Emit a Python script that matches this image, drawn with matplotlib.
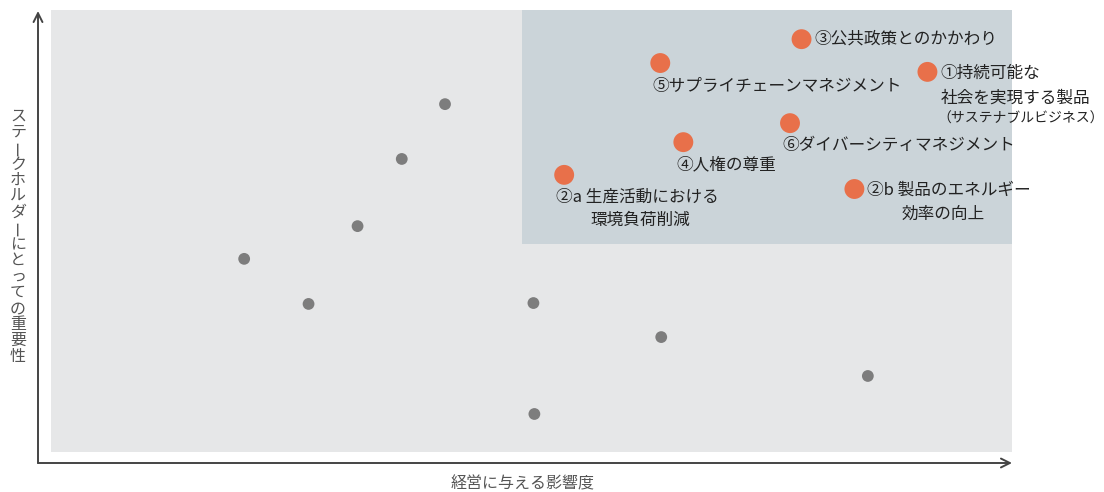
import matplotlib
matplotlib.use("Agg")
import matplotlib.pyplot as plt
from matplotlib.patches import Rectangle

plt.rcParams['font.family'] = ['Noto Sans CJK JP', 'DejaVu Sans']

# ---- data ----
other_x = [41.0, 36.5, 31.9, 20.1, 26.8, 50.2, 63.5, 50.3, 85.0]
other_y = [78.7, 66.3, 51.1, 43.7, 33.5, 33.7, 26.0, 8.6, 17.2]

key_x = [78.1, 63.4, 91.2, 76.9, 65.8, 53.4, 83.6]
key_y = [93.4, 88.0, 86.0, 74.4, 70.1, 62.7, 59.5]
key_labels = [
    ["③公共政策とのかかわり"],
    ["⑤サプライチェーンマネジメント"],
    ["①持続可能な", "社会を実現する製品", "（サステナブルビジネス）"],
    ["⑥ダイバーシティマネジメント"],
    ["④人権の尊重"],
    ["②a 生産活動における", "環境負荷削減"],
    ["②b 製品のエネルギー", "効率の向上"],
]
highlight_x0, highlight_y0 = 49.0, 47.0
x_label = "経営に与える影響度"
y_label = "ステークホルダーにとっての重要性"

# ---- styles (pixel offsets per label line) ----
label_offsets = [
    [(13, 0, 12)],
    [(-8, -23, 12)],
    [(13, -1, 12), (13, -26, 12), (10, -47, 10)],
    [(-8, -22, 12)],
    [(-7, -23, 12)],
    [(-8, -22, 12), (26, -46, 12)],
    [(13, -1, 12), (47, -25, 12)],
]

W, H = 1104, 492
fig = plt.figure(figsize=(W / 100, H / 100), dpi=100)
fig.patch.set_facecolor('white')
ax = fig.add_axes([51 / W, (H - 452) / H, 961 / W, 442 / H])
ax.set_xlim(0, 100)
ax.set_ylim(0, 100)
ax.set_facecolor('#e6e7e8')
for s in ax.spines.values():
    s.set_visible(False)
ax.set_xticks([])
ax.set_yticks([])

ax.add_patch(Rectangle((highlight_x0, highlight_y0), 100 - highlight_x0, 100 - highlight_y0,
                       facecolor='#cbd4d9', edgecolor='none', zorder=1))

ax.scatter(other_x, other_y, s=72, color='#7d7d7d', edgecolors='none', zorder=3)
ax.scatter(key_x, key_y, s=205, color='#e8704a', edgecolors='none', zorder=3)

for x, y, lines, offs in zip(key_x, key_y, key_labels, label_offsets):
    for line, (dx, dy, fs) in zip(lines, offs):
        ax.annotate(line, (x, y), xytext=(dx, dy), textcoords='offset pixels',
                    ha='left', va='center', fontsize=fs, color='#222222', zorder=4)

# axis arrows
x0f = (38 - 51) / 961
y0f = (452 - 463) / 442
ax.annotate('', xy=(x0f, (452 - 11) / 442), xytext=(x0f, y0f), xycoords='axes fraction',
            arrowprops=dict(arrowstyle='->', lw=1.4, color='#444444', shrinkA=0, shrinkB=0,
                            mutation_scale=16), annotation_clip=False)
ax.annotate('', xy=((1012 - 51) / 961, y0f), xytext=(x0f, y0f), xycoords='axes fraction',
            arrowprops=dict(arrowstyle='->', lw=1.4, color='#444444', shrinkA=0, shrinkB=0,
                            mutation_scale=16), annotation_clip=False)

# x label
fig.text(523 / W, 1 - 484 / H, x_label, ha='center', va='center', fontsize=11.5, color='#555555')

# y label, vertical writing
for i, ch in enumerate(y_label):
    yc = 116 + i * 16.05
    rot = 90 if ch == 'ー' else 0
    fig.text(18 / W, 1 - yc / H, ch, ha='center', va='center', fontsize=11.5,
             color='#555555', rotation=rot)

fig.savefig('out.png', dpi=100)
